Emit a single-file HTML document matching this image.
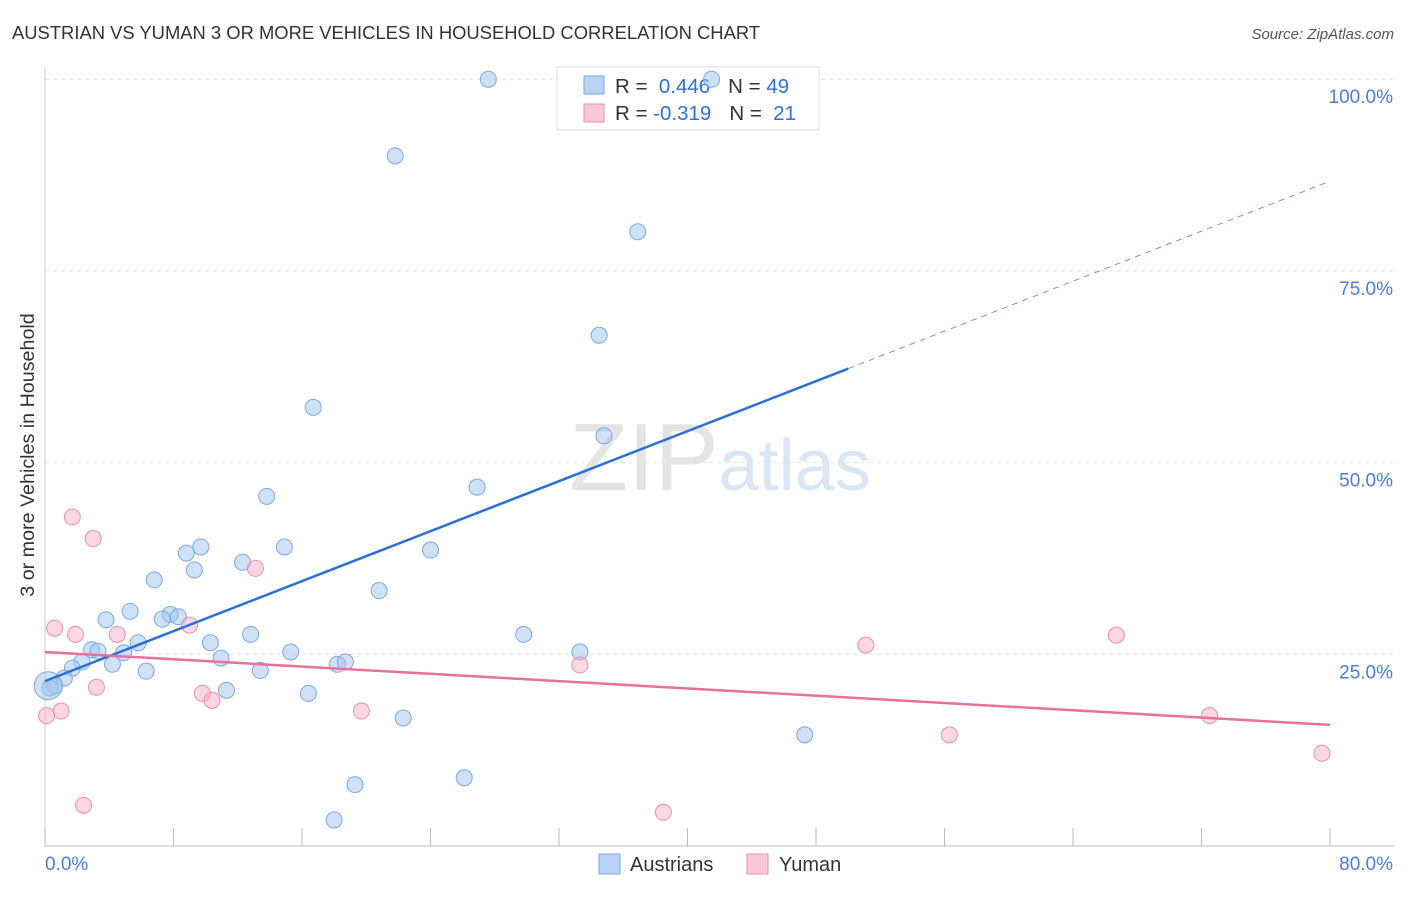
<!DOCTYPE html>
<html><head><meta charset="utf-8"><style>
body{margin:0;background:#fff;font-family:"Liberation Sans",sans-serif;}
svg text{font-family:"Liberation Sans",sans-serif;}
</style></head><body>
<svg id="c" width="1406" height="892" xmlns="http://www.w3.org/2000/svg">
<text x="12" y="39" font-size="18.4" fill="#333">AUSTRIAN VS YUMAN 3 OR MORE VEHICLES IN HOUSEHOLD CORRELATION CHART</text>
<text x="1394" y="39" font-size="15" fill="#555" text-anchor="end" font-style="italic">Source: ZipAtlas.com</text>
<text x="720" y="490" font-size="96" fill="#e4e4e4" text-anchor="middle" font-family="Liberation Serif">ZIP<tspan fill="#d8e6f6" font-family="Liberation Sans" font-size="72">atlas</tspan></text>
<text transform="translate(34,455) rotate(-90)" font-size="19.7" fill="#333" text-anchor="middle">3 or more Vehicles in Household</text>
<g id="grid"></g>
<g>
<rect x="557" y="67" width="262" height="63" fill="#fff" stroke="#ddd"/>
<rect x="584" y="76" width="20" height="18" fill="#b8d3f5" stroke="#7aaae0"/>
<rect x="584" y="104" width="20" height="18" fill="#f9c8d8" stroke="#e890b0"/>
<text x="615" y="93" font-size="20.5" fill="#333">R = <tspan fill="#2f6fd6">&#160;0.446</tspan><tspan dx="18">N = </tspan><tspan fill="#2f6fd6">49</tspan></text>
<text x="615" y="120" font-size="20.5" fill="#333">R = <tspan fill="#2f6fd6">-0.319</tspan><tspan dx="18">N = </tspan><tspan fill="#2f6fd6">&#160;21</tspan></text>
</g>
<g id="pts"></g><g id="lines"></g>
<g>
<rect x="599" y="854" width="21" height="20" fill="#b8d3f5" stroke="#7aaae0"/>
<text x="630" y="871" font-size="20" fill="#333">Austrians</text>
<rect x="747" y="854" width="21" height="20" fill="#f9c8d8" stroke="#e890b0"/>
<text x="779" y="871" font-size="20" fill="#333">Yuman</text>
</g>
</svg>
<script>
const blueX=[27.6,41.5,21.8,36.9,34.5,16.7,34.8,26.9,13.8,24.0,14.9,9.7,8.8,12.3,9.3,6.8,20.8,5.3,3.8,7.8,7.3,8.3,5.8,10.3,12.8,29.8,2.9,3.3,4.9,15.3,10.96,33.3,2.3,4.2,1.7,6.3,13.4,18.2,18.7,1.2,0.6,0.3,11.3,16.4,22.3,47.3,26.1,19.3,18.0];
const blueY=[100,100,90.0,80.1,66.6,57.2,53.5,46.8,45.6,38.6,39.0,39.0,38.2,37.0,36.0,34.7,33.3,30.6,29.5,30.2,29.6,29.9,26.5,26.5,27.6,27.6,25.6,25.4,25.2,25.3,24.5,25.3,24.0,23.7,23.2,22.8,22.9,23.7,24.0,21.9,20.9,20.6,20.3,19.9,16.7,14.5,8.9,8.0,3.4];
const pinkX=[1.7,3.0,13.1,0.6,1.9,4.5,9.0,51.1,66.7,33.3,3.2,9.8,10.4,1.0,0.1,19.7,56.3,72.5,79.5,2.4,38.5];
const pinkY=[42.9,40.1,36.2,28.4,27.6,27.6,28.8,26.2,27.5,23.6,20.7,19.9,19.0,17.6,17.0,17.6,14.5,17.0,12.1,5.3,4.4];
const blueLine=[21.5,86.7],blueSolidEnd=50;
const pinkLine=[25.3,15.8];
const xTicks=[0,8,16,24,32,40,48,56,64,72,80];
const yTicks=[25,50,75,100];
const NS='http://www.w3.org/2000/svg';
const X=v=>45+v*16.0625, Y=v=>846-v*7.668;
function mk(t,a,p){const e=document.createElementNS(NS,t);for(const k in a)e.setAttribute(k,a[k]);p.appendChild(e);return e;}
const g=document.getElementById('grid'),P=document.getElementById('pts'),L=document.getElementById('lines');
yTicks.forEach(v=>{const l=mk('line',{x1:45,x2:1394,y1:Y(v),y2:Y(v),stroke:'#e2e2e2','stroke-dasharray':'4,4'},g);


const t=mk('text',{x:1393,y:Y(v)+24,'font-size':19,fill:'#4a7fd6','text-anchor':'end'},g);t.textContent=v.toFixed(1)+'%';

});
const ax=mk('line',{x1:45,x2:1394,y1:846,y2:846,stroke:'#bbb'},g);


const ay=mk('line',{x1:45,x2:45,y1:68,y2:846,stroke:'#ccc'},g);


xTicks.forEach(v=>{const l=mk('line',{x1:X(v),x2:X(v),y1:828,y2:846,stroke:'#bbb'},g);

});
[[0,'start'],[80,'end']].forEach(([v,a])=>{const t=mk('text',{x:v?1393:45,y:870,'font-size':19,fill:'#4a7fd6','text-anchor':a},g);t.textContent=v.toFixed(1)+'%';

});
blueX.forEach((x,i)=>{const c=mk('circle',{cx:X(x),cy:Y(blueY[i]),r:8,fill:'rgba(160,196,240,0.5)',stroke:'#7aaae0','stroke-width':1},P);

});
const big=mk('circle',{cx:X(0.2),cy:Y(20.9),r:14,fill:'rgba(160,196,240,0.5)',stroke:'#7aaae0'},P);


pinkX.forEach((x,i)=>{const c=mk('circle',{cx:X(x),cy:Y(pinkY[i]),r:8,fill:'rgba(245,175,200,0.5)',stroke:'#e890b0','stroke-width':1},P);

});
const by=v=>blueLine[0]+(blueLine[1]-blueLine[0])*v/80;
const b1=mk('line',{x1:X(0),y1:Y(by(0)),x2:X(blueSolidEnd),y2:Y(by(blueSolidEnd)),stroke:'#2a6fd6','stroke-width':2.5},L);


const b2=mk('line',{x1:X(blueSolidEnd),y1:Y(by(blueSolidEnd)),x2:X(80),y2:Y(by(80)),stroke:'#6a9ae0','stroke-width':1,'stroke-dasharray':'6,5'},L);


const p1=mk('line',{x1:X(0),y1:Y(pinkLine[0]),x2:X(80),y2:Y(pinkLine[1]),stroke:'#e8709a','stroke-width':2.5},L);


</script>
</body></html>
